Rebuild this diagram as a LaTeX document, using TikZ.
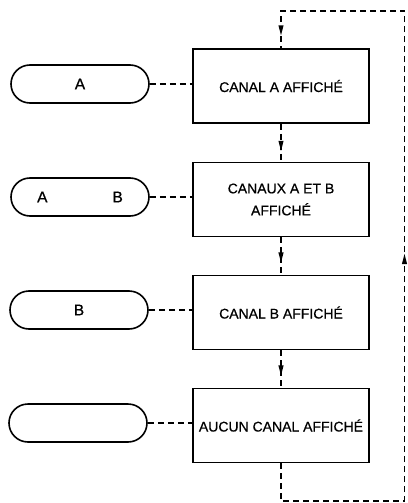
\documentclass[tikz,border=0pt]{standalone}
\usepackage{fontspec}
\setmainfont{Liberation Sans}
\usetikzlibrary{shapes.misc,decorations.markings}

\tikzset{
  statebox/.style={draw, line width=1.6pt, minimum width=176pt, minimum height=74pt,
    inner sep=0pt, align=center,
    font=\fontsize{14}{22}\selectfont\addfontfeatures{FakeBold=0.6}},
  pill/.style={draw, rounded rectangle, line width=1.6pt, minimum width=138pt,
    minimum height=38pt, inner sep=0pt,
    font=\fontsize{15.5}{16}\selectfont\addfontfeatures{FakeBold=0.8}},
  link/.style={line width=1.2pt, dash pattern=on 6pt off 4pt},
  tipat/.style={postaction={decorate, decoration={markings,
    mark=at position #1 with {\fill (2pt,0pt) -- (-8pt,2.6pt) -- (-8pt,-2.6pt) -- cycle;}}}}
}

\begin{document}
\begin{tikzpicture}[x=1pt, y=-1pt]
  \useasboundingbox[fill=white] (0,0) rectangle (407,503);

  % display states
  \node[statebox] (b1) at (281,86)    {CANAL A AFFICHÉ};
  \node[statebox] (b2) at (281,199.5) {CANAUX A ET B\\AFFICHÉ};
  \node[statebox] (b3) at (281,312.5) {CANAL B AFFICHÉ};
  \node[statebox] (b4) at (281,425.5) {AUCUN CANAL AFFICHÉ};

  % indicator lamps
  \node[pill] (p1) at (80,84)  {A};
  \node[pill] (p2) at (80,197) {A\hspace{65pt}B};
  \node[pill] (p3) at (79,310) {B};
  \node[pill] (p4) at (78,423) {};

  % lamp to state links
  \draw[link] (p1.east) -- (p1.east -| b1.west);
  \draw[link] (p2.east) -- (p2.east -| b2.west);
  \draw[link] (p3.east) -- (p3.east -| b3.west);
  \draw[link] (p4.east) -- (p4.east -| b4.west);

  % state sequence
  \draw[link, tipat=0.66] (b1.south) -- (b2.north);
  \draw[link, tipat=0.62] (b2.south) -- (b3.north);
  \draw[link, tipat=0.62] (b3.south) -- (b4.north);

  % return loop
  \coordinate (lbl) at (281,501);
  \coordinate (lbr) at (404.5,501);
  \coordinate (ltr) at (404.5,11);
  \coordinate (ltl) at (281,11);
  \draw[link] (b4.south) -- (lbl) -- (lbr) -- (ltr) -- (ltl) -- (b1.north);
  \path[tipat=0.5] (lbr) -- (ltr);
  \path[tipat=0.6] (ltl) -- (b1.north);
\end{tikzpicture}
\end{document}
